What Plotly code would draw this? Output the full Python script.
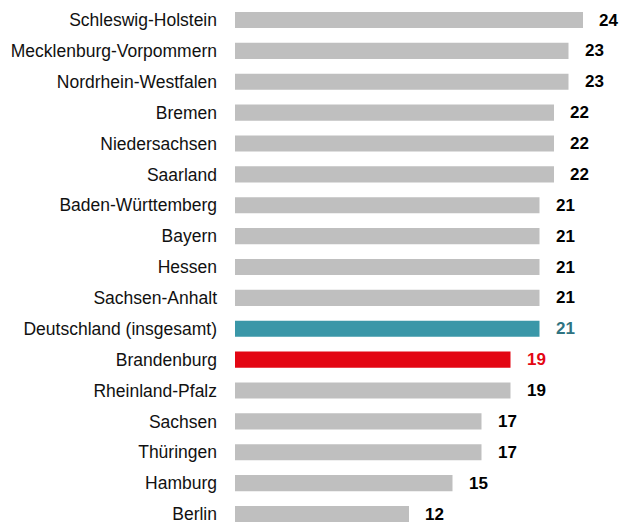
import plotly.graph_objects as go

categories = ["Schleswig-Holstein", "Mecklenburg-Vorpommern", "Nordrhein-Westfalen", "Bremen",
              "Niedersachsen", "Saarland", "Baden-Württemberg", "Bayern", "Hessen", "Sachsen-Anhalt",
              "Deutschland (insgesamt)", "Brandenburg", "Rheinland-Pfalz", "Sachsen", "Thüringen",
              "Hamburg", "Berlin"]
values = [24, 23, 23, 22, 22, 22, 21, 21, 21, 21, 21, 19, 19, 17, 17, 15, 12]

GREY = "#BFBFBF"
TEAL = "#3A97A8"
TEAL_TXT = "#2F7381"
RED = "#E30613"

bar_colors = []
text_colors = []
for c in categories:
    if c == "Deutschland (insgesamt)":
        bar_colors.append(TEAL); text_colors.append(TEAL_TXT)
    elif c == "Brandenburg":
        bar_colors.append(RED); text_colors.append(RED)
    else:
        bar_colors.append(GREY); text_colors.append("#000000")

idx = list(range(len(categories)))

fig = go.Figure(go.Bar(
    x=values, y=idx, orientation="h", marker_color=bar_colors,
    marker_line_width=0, width=0.52, hoverinfo="skip"))

for i, v in enumerate(values):
    fig.add_annotation(x=v, y=i, text=str(v), showarrow=False, xanchor="left",
                       xshift=14, font=dict(family="Liberation Sans, Arial", size=17,
                                            color=text_colors[i], weight="bold"))

W, H, L = 621, 523, 235
ROW0, STEP = 20, 30.875
fig.update_layout(
    width=W, height=H, margin=dict(l=L, r=0, t=0, b=0),
    plot_bgcolor="white", paper_bgcolor="white", showlegend=False,
    font=dict(family="Liberation Sans, Arial", size=17.5, color="#000000"),
    xaxis=dict(range=[0, (W - L) / 14.5], visible=False),
    yaxis=dict(range=[(H - ROW0) / STEP, -ROW0 / STEP], tickvals=idx, ticktext=categories,
               showgrid=False, zeroline=False, showline=False, ticks="",
               ticklabeloverflow="allow",
               ticklabelstandoff=17, tickfont=dict(size=17.5, color="#111111")),
)

fig.write_html("out.html", config={"displayModeBar": False},
               post_script="document.body.style.margin='0';document.body.style.overflow='hidden';")
